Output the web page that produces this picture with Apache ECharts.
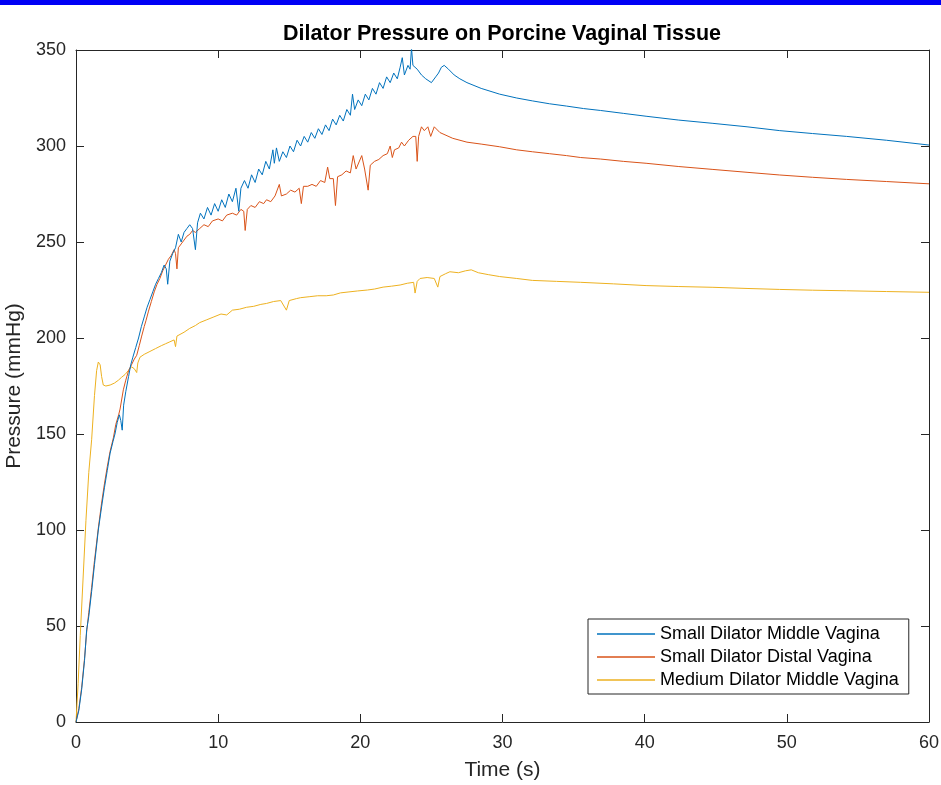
<!DOCTYPE html>
<html lang="en" style="height: 100%">
<head>
  <meta charset="utf-8">
</head>
<body style="height: 100%; margin: 0; background: #fff">
  <div id="container" style="width: 941px; height: 785px;"></div>

  <script type="text/javascript" src="https://cdn.jsdelivr.net/npm/echarts@6.0.0/dist/echarts.min.js"></script>

  <script type="text/javascript">
    // [time (s), pressure (mmHg)]
    var smallMiddle = [
      [0,0],[0.2,6],[0.4,17],[0.6,32],[0.75,48],[0.9,55],[1.1,68],[1.3,82],[1.57,100],[1.8,112],[2.0,122],
      [2.2,131],[2.4,140],[2.6,146],[2.74,150],[2.9,156],[3.05,160],[3.15,157],[3.25,152],[3.35,165],[3.5,172],
      [3.7,180],[3.85,186],[4.0,190],[4.2,195],[4.4,200],[4.6,206],[4.8,211],[5.0,216],[5.2,220],[5.4,224],
      [5.6,228],[5.8,231],[6.0,234],[6.2,238],[6.35,236],[6.45,228],[6.6,240],[6.8,244],[7.0,247],[7.2,254],
      [7.4,250],[7.6,255],[7.8,257],[8.0,259],[8.2,257],[8.4,246],[8.55,260],[8.75,265],[9.0,262],[9.25,268],
      [9.5,264],[9.75,270],[10.0,266],[10.25,272],[10.5,268],[10.75,275],[11.0,271],[11.25,278],[11.45,266],
      [11.6,278],[11.85,282],[12.1,278],[12.35,285],[12.6,281],[12.85,288],[13.1,285],[13.35,292],[13.6,288],
      [13.85,298],[13.95,291],[14.1,299],[14.3,292],[14.55,297],[14.8,294],[15.05,300],[15.3,297],[15.55,303],
      [15.8,300],[16.05,305],[16.3,302],[16.55,307],[16.8,304],[17.05,309],[17.3,306],[17.55,311],[17.8,308],
      [18.05,314],[18.3,311],[18.55,316],[18.8,313],[19.05,319],[19.3,316],[19.45,327],[19.6,319],[19.85,324],
      [20.1,321],[20.35,327],[20.6,324],[20.85,330],[21.1,327],[21.35,333],[21.6,330],[21.85,336],[22.1,333],
      [22.35,338],[22.6,335],[22.8,341],[22.95,346],[23.1,337],[23.35,342],[23.5,340],[23.6,351],[23.7,342],
      [24.0,340],[24.3,337],[24.6,335],[25.0,333],[25.3,336],[25.5,338],[25.7,341],[25.9,342],[26.2,340],
      [26.6,337],[27.0,335],[27.5,333],[28.5,330],[29.8,327],[31,325],[32.1,323.5],[33.3,322],[34.5,320.8],
      [35.7,319.5],[36.9,318.5],[38.5,317],[40.1,315.5],[42.4,313.5],[44.8,311.8],[47.2,310],[49.5,308],
      [51.8,306.5],[54.2,305],[57,303],[60,300.5]
    ];

    var smallDistal = [
      [0,0],[0.2,7],[0.4,18],[0.6,33],[0.75,47],[0.9,57],[1.1,70],[1.3,84],[1.57,101],[1.8,114],[2.0,124],
      [2.2,133],[2.4,141],[2.63,148],[2.8,155],[3.0,160],[3.1,163],[3.33,173],[3.5,178],[3.7,183],[3.9,186],
      [4.1,189],[4.27,191],[4.45,196],[4.62,201],[4.8,206],[4.92,209],[5.1,214],[5.3,219],[5.5,224],[5.7,228],
      [5.9,231],[6.1,235],[6.3,238],[6.5,241],[6.7,243],[6.9,246],[7.0,244],[7.1,236],[7.2,247],[7.4,249],
      [7.6,251],[7.8,253],[8.0,254],[8.2,256],[8.4,255],[8.7,257],[9.0,259],[9.3,258],[9.6,261],[10.0,262],
      [10.3,261],[10.6,264],[11.0,265],[11.3,264],[11.6,267],[11.8,266],[11.9,256],[12.05,267],[12.3,269],
      [12.6,268],[12.9,271],[13.2,270],[13.4,272],[13.7,271],[14.0,274],[14.3,280],[14.45,274],[14.8,275],
      [15.1,277],[15.4,276],[15.7,278],[15.85,270],[16.0,279],[16.3,279],[16.6,280],[16.9,279],[17.2,282],
      [17.5,281],[17.7,289],[17.85,283],[18.1,283],[18.25,269],[18.4,284],[18.7,285],[19.0,287],[19.3,286],
      [19.5,295],[19.7,288],[20.1,295],[20.3,288],[20.55,277],[20.7,290],[21.0,292],[21.3,293],[21.6,295],
      [21.9,296],[22.1,300],[22.25,294],[22.4,298],[22.7,299],[22.9,302],[23.1,300],[23.4,303],[23.7,305],
      [23.9,305],[24.0,292],[24.1,305],[24.3,310],[24.5,308],[24.75,310],[24.95,305],[25.2,310],[25.6,307],
      [26.5,304],[27.5,302],[28.5,301],[29.8,299.6],[31,298],[32.1,297],[33.3,296],[34.5,295],[35.5,294],
      [36.9,293.2],[38.5,292],[40.1,291],[42.4,289.3],[44.8,287.8],[47.2,286.3],[49.5,284.9],[51.8,283.7],
      [54.2,282.6],[57,281.5],[60,280.3]
    ];

    var mediumMiddle = [
      [0,0],[0.15,20],[0.3,45],[0.5,75],[0.7,105],[0.9,130],[1.1,147],[1.3,170],[1.45,183],[1.57,187.5],
      [1.7,186],[1.8,180],[1.92,175.5],[2.1,175],[2.4,175.5],[2.7,176.5],[2.98,178],[3.2,179.5],[3.45,181],
      [3.68,183],[3.9,185],[4.1,184],[4.27,182],[4.35,187],[4.5,190],[4.8,191.5],[5.2,193],[5.6,194.5],
      [6.0,196],[6.3,197],[6.6,198],[6.9,199],[7.0,195.5],[7.1,201],[7.2,202],[7.6,203],[8.0,205],[8.4,206.5],
      [8.7,208],[9.2,209.5],[9.7,211],[10.2,212.5],[10.6,212],[11.0,214.5],[11.5,215],[12,216],[12.5,216.5],
      [13,217.5],[13.4,218],[13.9,219],[14.4,219.5],[14.8,214.5],[15.0,219.5],[15.5,220.5],[15.8,221],
      [16.4,221.5],[17.0,222],[17.6,222],[18.1,222.4],[18.6,223.5],[19.2,224],[19.8,224.5],[20.5,225],
      [21.0,225.5],[21.6,226.5],[22.2,227],[22.8,227.6],[23.3,228.5],[23.75,229],[23.85,223.4],[24.0,229.5],
      [24.2,231],[24.7,231.5],[25.2,231],[25.45,226.5],[25.6,232],[26.0,233.5],[26.3,234.5],[26.9,234],
      [27.4,235],[27.8,235.5],[28.3,234],[29.0,233],[29.8,232],[31,231],[32.1,230],[33.8,229.5],[35.5,229],
      [37.8,228.2],[40.1,227.3],[42.4,226.8],[44.8,226.4],[47.2,225.8],[49.5,225.3],[51.8,224.9],[54.2,224.6],
      [57,224.2],[60,223.8]
    ];

    var seriesNames = ['Small Dilator Middle Vagina', 'Small Dilator Distal Vagina', 'Medium Dilator Middle Vagina'];
    var seriesColors = ['#0072BD', '#D95319', '#EDB120'];
    var seriesData = [smallMiddle, smallDistal, mediumMiddle];

    var font = 'Liberation Sans, Arial, Helvetica, sans-serif';
    var ink = '#262626';

    var dom = document.getElementById('container');
    var myChart = echarts.init(dom, null, { renderer: 'canvas' });

    function axisBase(extra) {
      return Object.assign({
        type: 'value',
        axisLine: { show: true, onZero: false, lineStyle: { color: ink, width: 1 } },
        axisTick: { show: true, inside: true, length: 8, lineStyle: { color: ink } },
        splitLine: { show: false }
      }, extra);
    }

    var option = {
      animation: false,
      backgroundColor: '#fff',
      textStyle: { fontFamily: font },
      title: {
        text: 'Dilator Pressure on Porcine Vaginal Tissue',
        left: 502,
        top: 23,
        textAlign: 'center',
        padding: 0,
        textStyle: { fontSize: 21.5, fontWeight: 'bold', color: '#000', fontFamily: font }
      },
      graphic: [{
        type: 'rect',
        shape: { x: 0, y: 0, width: 941, height: 5 },
        style: { fill: '#0000f5' },
        silent: true
      }],
      grid: { left: 76, top: 50, right: 12, bottom: 63, outerBoundsMode: 'none', containLabel: false },
      legend: {
        orient: 'vertical',
        left: 588,
        top: 619,
        padding: [6, 10, 5, 9],
        icon: 'rect',
        itemWidth: 58,
        itemHeight: 1.3,
        itemGap: 5,
        backgroundColor: '#fff',
        borderColor: ink,
        borderWidth: 1,
        borderRadius: 0,
        textStyle: { fontSize: 18, color: '#000', fontFamily: font },
        data: seriesNames
      },
      xAxis: [
        axisBase({
          min: 0, max: 60, interval: 10,
          name: 'Time (s)',
          nameLocation: 'middle',
          nameGap: 38,
          nameTextStyle: { fontSize: 21, color: ink, fontFamily: font },
          axisLabel: { fontSize: 18, color: ink, margin: 12, fontFamily: font }
        }),
        axisBase({
          position: 'top',
          min: 0, max: 60, interval: 10,
          axisLabel: { show: false }
        })
      ],
      yAxis: [
        axisBase({
          min: 0, max: 350, interval: 50,
          name: 'Pressure (mmHg)',
          nameLocation: 'middle',
          nameGap: 48,
          nameTextStyle: { fontSize: 21, color: ink, fontFamily: font },
          axisLabel: { fontSize: 18, color: ink, margin: 10, fontFamily: font }
        }),
        axisBase({
          position: 'right',
          min: 0, max: 350, interval: 50,
          axisLabel: { show: false }
        })
      ],
      series: []
    };

    for (var i = 0; i < seriesData.length; i++) {
      option.series.push({
        name: seriesNames[i],
        type: 'line',
        data: seriesData[i],
        color: seriesColors[i],
        symbol: 'none',
        showSymbol: false,
        lineStyle: { width: 1, color: seriesColors[i] },
        z: 3 - i
      });
    }

    myChart.setOption(option);
    window.addEventListener('resize', myChart.resize);
  </script>
</body>
</html>
